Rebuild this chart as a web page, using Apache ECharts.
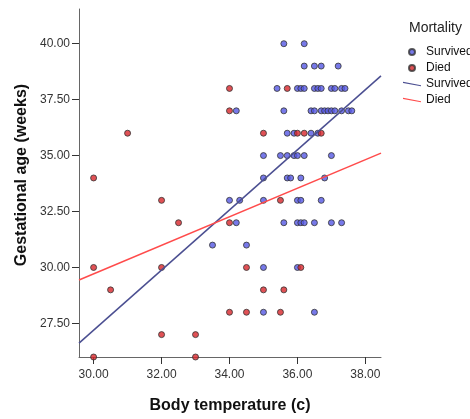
<!DOCTYPE html>
<html>
<head>
<meta charset="utf-8">
<script src="https://cdn.jsdelivr.net/npm/echarts@6/dist/echarts.min.js"></script>
<style>
  html, body { margin: 0; padding: 0; background: #fff; }
  #main { width: 470px; height: 419px; }
</style>
</head>
<body>
<div id="main"></div>
<script>
"use strict";

// body temperature (c), gestational age (weeks)
var survived = [
    [35.6, 40], [36.2, 40],
    [36.2, 39], [36.5, 39], [36.7, 39], [37.2, 39],
    [35.4, 38], [36.0, 38], [36.1, 38], [36.2, 38], [36.5, 38], [36.6, 38], [36.7, 38],
    [37.0, 38], [37.1, 38], [37.3, 38], [37.4, 38],
    [34.2, 37], [35.6, 37], [36.4, 37], [36.5, 37], [36.7, 37], [36.8, 37], [36.9, 37],
    [37.0, 37], [37.1, 37], [37.3, 37], [37.5, 37], [37.6, 37],
    [35.7, 36], [35.9, 36], [36.4, 36], [36.6, 36],
    [35.0, 35], [35.5, 35], [35.7, 35], [35.9, 35], [36.0, 35], [36.2, 35], [37.0, 35],
    [35.0, 34], [35.7, 34], [35.8, 34], [36.1, 34], [36.8, 34],
    [34.0, 33], [34.3, 33], [35.0, 33], [36.0, 33], [36.1, 33], [36.7, 33],
    [34.2, 32], [35.6, 32], [36.0, 32], [36.1, 32], [36.2, 32], [36.5, 32], [37.0, 32], [37.3, 32],
    [33.5, 31], [34.5, 31],
    [35.0, 30], [36.0, 30],
    [35.0, 28], [36.5, 28]
];

var died = [
    [31.0, 36], [30.0, 34], [32.0, 33], [32.5, 32], [30.0, 30], [32.0, 30], [30.5, 29],
    [32.0, 27], [33.0, 27], [30.0, 26], [33.0, 26],
    [34.0, 38], [35.7, 38],
    [34.0, 37],
    [35.0, 36], [36.0, 36], [36.2, 36], [36.7, 36],
    [35.5, 33],
    [34.0, 32],
    [34.5, 30], [36.1, 30],
    [35.0, 29], [35.6, 29],
    [34.0, 28], [34.5, 28], [35.5, 28]
];

// fit lines (end points)
var survivedFit = [[29.57, 26.62], [38.46, 38.56]];
var diedFit = [[29.57, 29.44], [38.46, 35.11]];

var xTicks = [30, 32, 34, 36, 38];
var yTicks = [27.5, 30, 32.5, 35, 37.5, 40];

var font = 'Liberation Sans, Arial, sans-serif';
var blue = '#5558e4';
var red = '#d8262b';
var blueFit = '#4b4f91';
var redFit = '#ff4b4b';
var fitIcon = 'path://M0,0 L24,4.5 L24,6 L0,1.5 Z';

var myChart = echarts.init(document.getElementById('main'));

var option = {
    backgroundColor: '#fff',
    animation: false,
    textStyle: { fontFamily: font },
    title: {
        text: 'Mortality',
        left: 404,
        top: 16,
        textStyle: { fontFamily: font, fontSize: 14, fontWeight: 'normal', color: '#222' }
    },
    legend: {
        orient: 'vertical',
        left: 398,
        top: 41,
        itemWidth: 18,
        itemHeight: 6,
        itemGap: 4,
        textStyle: { fontFamily: font, fontSize: 12, color: '#111' },
        formatter: function (name) { return name.replace(' (fit)', ''); },
        data: [
            { name: 'Survived', icon: 'circle' },
            { name: 'Died', icon: 'circle' },
            { name: 'Survived (fit)', icon: fitIcon, itemStyle: { color: blueFit, borderWidth: 0 } },
            { name: 'Died (fit)', icon: fitIcon, itemStyle: { color: redFit, borderWidth: 0 } }
        ]
    },
    grid: { left: 79, right: 89, top: 9, bottom: 58 },
    xAxis: {
        type: 'value',
        min: 29.57,
        max: 38.46,
        name: 'Body temperature (c)',
        nameLocation: 'middle',
        nameGap: 41,
        nameTextStyle: { fontFamily: font, fontSize: 16, fontWeight: 'bold', color: '#111' },
        splitLine: { show: false },
        axisLine: { lineStyle: { color: '#666' } },
        axisTick: { customValues: xTicks, length: 7, lineStyle: { color: '#333' } },
        axisLabel: {
            customValues: xTicks,
            margin: 12,
            fontSize: 12,
            color: '#333',
            formatter: function (v) { return v.toFixed(2); }
        }
    },
    yAxis: {
        type: 'value',
        min: 26,
        max: 41.55,
        splitLine: { show: false },
        axisLine: { show: true, lineStyle: { color: '#666' } },
        axisTick: { show: true, customValues: yTicks, length: 7, lineStyle: { color: '#333' } },
        axisLabel: {
            customValues: yTicks,
            margin: 9,
            fontSize: 12,
            color: '#333',
            formatter: function (v) { return v.toFixed(2); }
        }
    },
    graphic: [{
        type: 'text',
        x: 22,
        y: 175,
        rotation: Math.PI / 2,
        style: {
            text: 'Gestational age (weeks)',
            font: 'bold 16px ' + font,
            fill: '#111',
            align: 'center',
            verticalAlign: 'middle'
        }
    }],
    series: [
        {
            name: 'Survived',
            type: 'scatter',
            symbolSize: 6,
            itemStyle: { color: blue, borderColor: '#333', borderWidth: 1 },
            data: survived
        },
        {
            name: 'Died',
            type: 'scatter',
            symbolSize: 6,
            itemStyle: { color: red, borderColor: '#333', borderWidth: 1 },
            data: died
        },
        {
            name: 'Survived (fit)',
            type: 'line',
            showSymbol: false,
            symbol: 'none',
            lineStyle: { color: blueFit, width: 1.5 },
            itemStyle: { color: blueFit },
            data: survivedFit
        },
        {
            name: 'Died (fit)',
            type: 'line',
            showSymbol: false,
            symbol: 'none',
            lineStyle: { color: redFit, width: 1.5 },
            itemStyle: { color: redFit },
            data: diedFit
        }
    ]
};
myChart.setOption(option);
</script>
</body>
</html>
